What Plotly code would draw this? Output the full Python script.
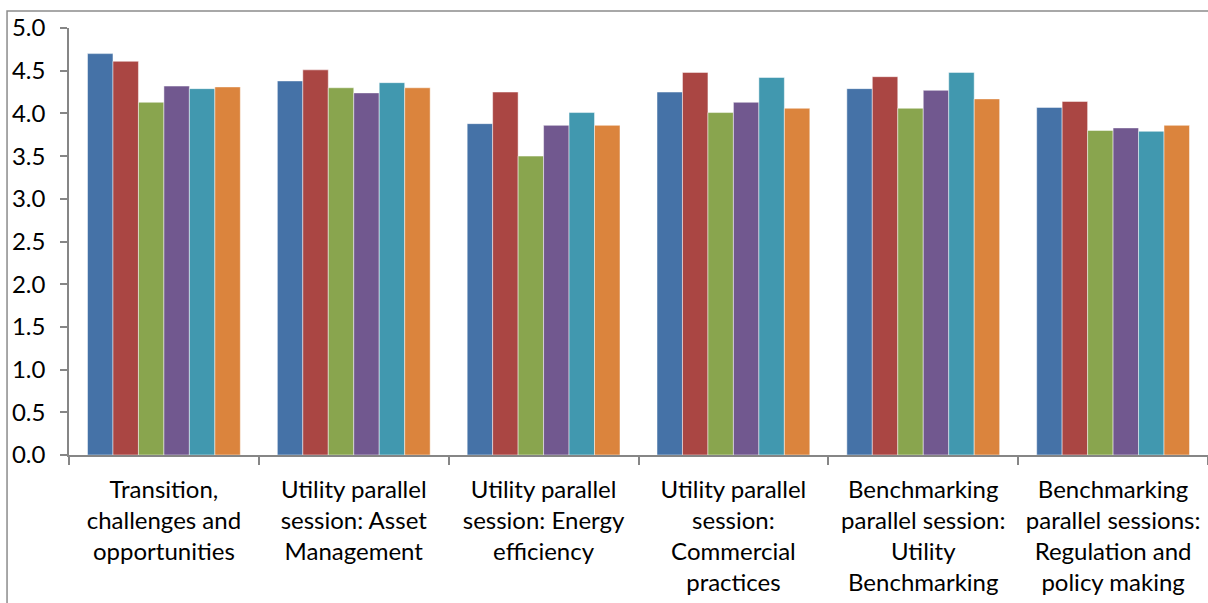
import plotly.graph_objects as go

categories = [
    "Transition,<br>challenges and<br>opportunities",
    "Utility parallel<br>session: Asset<br>Management",
    "Utility parallel<br>session: Energy<br>efficiency",
    "Utility parallel<br>session:<br>Commercial<br>practices",
    "Benchmarking<br>parallel session:<br>Utility<br>Benchmarking",
    "Benchmarking<br>parallel sessions:<br>Regulation and<br>policy making",
]

series_names = ["Series 1", "Series 2", "Series 3", "Series 4", "Series 5", "Series 6"]
s1 = [4.70, 4.38, 3.88, 4.25, 4.29, 4.07]
s2 = [4.61, 4.51, 4.25, 4.48, 4.43, 4.14]
s3 = [4.13, 4.30, 3.50, 4.01, 4.06, 3.80]
s4 = [4.32, 4.24, 3.86, 4.13, 4.27, 3.83]
s5 = [4.29, 4.36, 4.01, 4.42, 4.48, 3.79]
s6 = [4.31, 4.30, 3.86, 4.06, 4.17, 3.86]
series_values = [s1, s2, s3, s4, s5, s6]
colors = ["#4572A7", "#AA4643", "#89A54E", "#71588F", "#4198AF", "#DB843D"]

y_ticks = [0, 0.5, 1.0, 1.5, 2.0, 2.5, 3.0, 3.5, 4.0, 4.5, 5.0]

fig = go.Figure()
for name, vals, col in zip(series_names, series_values, colors):
    fig.add_trace(go.Bar(
        x=categories, y=vals, name=name,
        marker=dict(color=col, line=dict(color="rgba(255,255,255,0.6)", width=0.8)),
    ))

axis_color = "#868686"
fig.update_layout(
    width=1208, height=603,
    margin=dict(l=69, r=0, t=28, b=148),
    paper_bgcolor="white", plot_bgcolor="white",
    barmode="group", bargap=0.195, bargroupgap=0,
    showlegend=False,
    font=dict(family="Lato", size=24, color="#000000"),
    xaxis=dict(
        showline=True, linecolor=axis_color, linewidth=1.5,
        ticks="outside", tickson="boundaries", ticklen=8, tickcolor=axis_color, tickwidth=1.5,
        showgrid=False, ticklabelstandoff=12,
        tickfont=dict(family="Lato", size=24, color="#000000"),
    ),
    yaxis=dict(
        range=[0, 5.0], tickvals=y_ticks, tickformat=".1f",
        showline=True, linecolor=axis_color, linewidth=1.5,
        ticks="outside", ticklen=7, tickcolor=axis_color, tickwidth=1.5,
        showgrid=False, zeroline=False, ticklabelstandoff=10,
        tickfont=dict(family="Lato", size=24, color="#000000"),
    ),
)

fig.add_shape(
    type="rect", xref="paper", yref="paper",
    x0=-0.0544, x1=1.2, y0=-0.6, y1=1.0398,
    line=dict(color="#8c8c8c", width=1.5), fillcolor="rgba(0,0,0,0)", layer="below",
)

fig.write_html(
    "out.html",
    config={"displayModeBar": False},
    post_script="document.body.style.margin='0';document.body.style.overflow='hidden';",
)
